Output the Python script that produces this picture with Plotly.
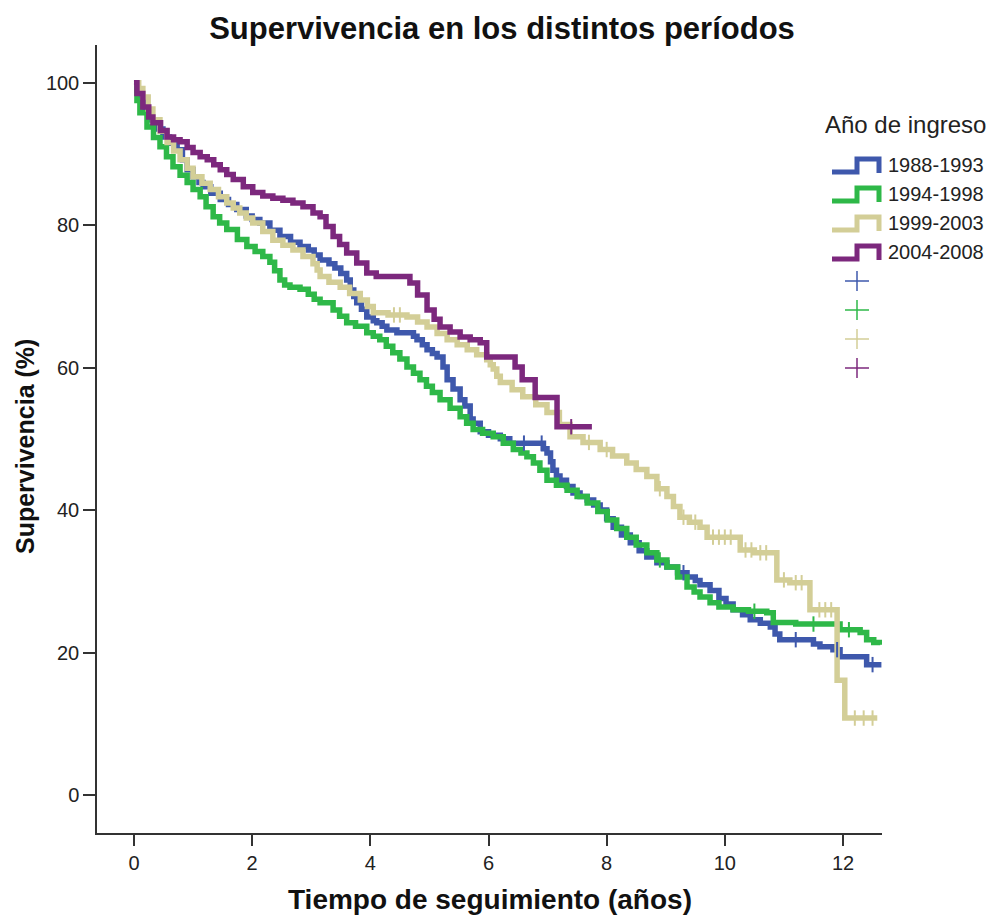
import plotly.graph_objects as go

# ---- Kaplan-Meier survival by admission period ----
periods = ["1988-1993", "1994-1998", "1999-2003", "2004-2008"]
colors = ["#3E58AC", "#2EB848", "#D3CE97", "#7C287D"]

t_1988 = [0, 0.05, 0.1, 0.18, 0.27, 0.38, 0.49, 0.6, 0.73, 0.82, 0.9, 1.0, 1.1, 1.17, 1.3,
          1.46, 1.6, 1.74, 1.9, 2.0, 2.13, 2.3, 2.47, 2.65, 2.81, 2.95, 3.05, 3.15, 3.3, 3.4,
          3.5, 3.6, 3.66, 3.72, 3.77, 3.85, 3.94, 4.05, 4.11, 4.2, 4.28, 4.45, 4.73, 4.79,
          4.88, 4.96, 5.05, 5.13, 5.23, 5.3, 5.4, 5.52, 5.6, 5.69, 5.74, 5.86, 6.0, 6.2, 6.36,
          6.93, 6.99, 7.05, 7.09, 7.15, 7.21, 7.32, 7.43, 7.55, 7.67, 7.78, 7.89, 8.0, 8.11,
          8.25, 8.4, 8.55, 8.68, 8.85, 9.02, 9.2, 9.36, 9.5, 9.58, 9.75, 9.9, 10.02, 10.14,
          10.3, 10.43, 10.6, 10.77, 10.85, 10.93, 11.5, 11.61, 11.83, 11.95, 12.4, 12.65]
s_1988 = [100, 99.0, 97.6, 96.0, 94.8, 93.5, 92.4, 91.5, 90.6, 89.2, 87.8, 86.8, 86.0, 85.4, 84.5,
          83.6, 82.9, 82.2, 81.3, 80.8, 80.3, 79.3, 78.4, 77.6, 77.0, 76.5, 75.8, 75.1, 74.6, 74.0,
          73.2, 72.3, 70.9, 70.0, 69.1, 68.2, 67.1, 66.6, 66.3, 65.8, 65.3, 64.9, 64.4, 63.9,
          63.2, 62.5, 62.0, 61.5, 60.1, 58.3, 57.0, 55.5, 54.6, 52.8, 52.2, 51.0, 50.5, 50.0, 49.4,
          48.6, 48.0, 46.8, 45.6, 44.8, 44.2, 43.3, 42.4, 41.9, 41.4, 40.7, 40.0, 38.8, 37.6,
          36.5, 35.4, 34.3, 33.4, 32.6, 32.0, 31.2, 30.6, 30.1, 29.5, 28.7, 27.6, 26.8, 26.0,
          25.3, 24.6, 24.1, 23.6, 22.6, 21.8, 21.2, 20.8, 20.4, 19.4, 18.3, 18.3]
c_1988 = [6.6, 6.9, 9.3, 11.2, 11.9, 12.5]

t_1994 = [0, 0.05, 0.1, 0.22, 0.33, 0.44, 0.55, 0.66, 0.78, 0.9, 1.0, 1.12, 1.22, 1.34, 1.45,
          1.57, 1.75, 1.91, 2.05, 2.18, 2.3, 2.38, 2.47, 2.55, 2.64, 2.81, 2.95, 3.05, 3.15,
          3.37, 3.48, 3.6, 3.75, 3.94, 4.05, 4.16, 4.27, 4.38, 4.5, 4.62, 4.73, 4.84, 4.95,
          5.05, 5.18, 5.35, 5.52, 5.63, 5.74, 5.9, 6.08, 6.25, 6.42, 6.55, 6.65, 6.76, 6.87,
          6.99, 7.15, 7.33, 7.5, 7.67, 7.85, 8.01, 8.17, 8.34, 8.5, 8.68, 8.85, 9.02, 9.2,
          9.36, 9.48, 9.58, 9.75, 9.9, 10.14, 10.4, 10.71, 10.82, 11.2, 11.95, 12.29, 12.4,
          12.52, 12.63]
s_1994 = [100, 97.5, 95.8, 93.8, 92.3, 91.0, 89.6, 88.2, 87.0, 86.0, 85.0, 84.0, 82.6, 81.2, 80.3,
          79.4, 78.0, 77.0, 76.3, 75.6, 74.8, 73.6, 72.3, 71.6, 71.3, 71.0, 70.3, 69.6, 69.1,
          68.1, 67.2, 66.3, 65.8, 64.9, 64.4, 63.9, 63.0, 62.1, 61.2, 60.1, 59.2, 58.3, 57.4,
          56.5, 55.5, 54.3, 53.1, 52.2, 51.3, 50.8, 50.3, 49.4, 48.5, 48.0, 47.5, 46.6, 45.6,
          44.2, 43.5, 42.8, 41.9, 41.0, 39.8, 38.6, 37.4, 36.2, 35.1, 34.0, 33.0, 32.0, 30.6,
          29.2, 28.5, 27.8, 27.0, 26.4, 26.0, 25.8, 25.6, 24.2, 24.0, 23.2, 22.8, 21.8,
          21.4, 21.1]
c_1994 = [8.9, 10.5, 11.5, 12.1]

t_1999 = [0, 0.08, 0.15, 0.24, 0.32, 0.44, 0.56, 0.67, 0.78, 0.9, 1.0, 1.15, 1.29, 1.43, 1.57,
          1.68, 1.79, 1.9, 2.01, 2.18, 2.35, 2.52, 2.69, 2.86, 3.03, 3.1, 3.15, 3.3, 3.49, 3.65,
          3.83, 3.95, 4.05, 4.3, 4.62, 4.8, 4.96, 5.13, 5.3, 5.47, 5.64, 5.8, 5.97, 6.03, 6.08,
          6.14, 6.2, 6.4, 6.58, 6.8, 6.99, 7.2, 7.38, 7.6, 7.89, 8.1, 8.34, 8.5, 8.68, 8.85,
          9.02, 9.13, 9.24, 9.4, 9.58, 9.7, 10.26, 10.5, 10.88, 11.1, 11.44, 11.9, 12.03, 12.58]
s_1999 = [100, 99.2, 98.0, 96.3, 94.8, 93.2, 91.6, 90.4, 89.2, 88.0, 86.8, 85.9, 85.0, 84.0, 83.1,
          82.4, 81.7, 81.0, 80.3, 79.1, 77.9, 77.2, 76.5, 75.6, 74.6, 73.7, 72.8, 72.0, 71.3, 70.4,
          69.5, 68.6, 67.7, 67.4, 67.1, 66.4, 65.7, 64.8, 63.9, 63.2, 62.5, 61.8, 61.1, 60.4, 59.8,
          58.8, 57.9, 56.9, 55.9, 54.8, 53.7, 52.0, 50.3, 49.5, 48.5, 47.6, 46.6, 45.7, 44.7, 43.0,
          41.9, 40.5, 39.0, 38.3, 37.6, 36.2, 34.4, 34.0, 30.2, 29.8, 26.0, 16.1, 10.8, 10.8]
c_1999 = [4.4, 4.5, 7.7, 8.0, 8.9, 9.3, 9.5, 9.8, 9.9, 10.0, 10.1, 10.35, 10.45, 10.6, 10.7,
          11.0, 11.2, 11.3, 11.6, 11.7, 11.8, 12.2, 12.35, 12.5]

t_2004 = [0, 0.05, 0.15, 0.25, 0.32, 0.45, 0.56, 0.67, 0.78, 0.9, 1.0, 1.12, 1.24, 1.35, 1.46,
          1.57, 1.68, 1.85, 2.01, 2.18, 2.35, 2.52, 2.69, 2.86, 3.03, 3.15, 3.25, 3.37, 3.48,
          3.6, 3.77, 3.94, 4.1, 4.67, 4.8, 4.96, 5.08, 5.18, 5.35, 5.52, 5.69, 5.86, 5.97,
          6.45, 6.57, 6.79, 7.16, 7.75]
s_2004 = [100, 98.5, 96.6, 95.2, 94.4, 93.3, 92.4, 92.0, 91.7, 90.9, 90.2, 89.6, 89.2, 88.5, 87.8,
          87.1, 86.4, 85.4, 84.6, 84.1, 83.8, 83.5, 83.1, 82.6, 81.7, 81.2, 79.8, 78.4, 77.3,
          76.1, 74.7, 73.3, 72.8, 71.9, 70.2, 68.1, 66.8, 65.7, 65.0, 64.3, 63.9, 63.5, 61.5,
          60.1, 58.3, 55.8, 51.7, 51.7]
c_2004 = [7.4]

series = [
    (t_1988, s_1988, c_1988),
    (t_1994, s_1994, c_1994),
    (t_1999, s_1999, c_1999),
    (t_2004, s_2004, c_2004),
]

x_ticks = [0, 2, 4, 6, 8, 10, 12]
y_ticks = [0, 20, 40, 60, 80, 100]

FONT = "Liberation Sans, Arial, sans-serif"
W, H = 996, 915
L, R, T, B = 97, 114, 45, 82


def surv_at(times, surv, t):
    """Value of the step survival curve at time t."""
    val = surv[0]
    for ti, si in zip(times, surv):
        if ti <= t:
            val = si
        else:
            break
    return val


fig = go.Figure()

for (times, surv, cens), name, col in zip(series, periods, colors):
    fig.add_trace(go.Scatter(
        x=times, y=surv, mode="lines", name=name,
        line=dict(color=col, width=5.5, shape="hv"),
        showlegend=False, hoverinfo="skip",
    ))
for (times, surv, cens), name, col in zip(series, periods, colors):
    fig.add_trace(go.Scatter(
        x=cens, y=[surv_at(times, surv, c) for c in cens], mode="markers",
        name=name + " censurado",
        marker=dict(symbol="line-ns", size=11, line=dict(color=col, width=2)),
        showlegend=False, hoverinfo="skip",
    ))

# ---- legend drawn in paper coordinates ----
pw, ph = W - L - R, H - T - B


def px(xp):
    return (xp - L) / pw


def py(yp):
    return (H - B - yp) / ph


shapes = []
annotations = []

annotations.append(dict(
    text="Año de ingreso", x=px(823), y=py(125), xref="paper", yref="paper",
    xanchor="left", yanchor="middle", showarrow=False,
    font=dict(family=FONT, size=24, color="#222222"),
))

row_y = [165, 194, 223, 252]
for name, col, yc in zip(periods, colors, row_y):
    x0, x1, x2 = 832, 857, 879
    ylo, yhi = yc + 7, yc - 6
    path = (f"M {px(x0)},{py(ylo)} L {px(x1)},{py(ylo)} L {px(x1)},{py(yhi)} "
            f"L {px(x2)},{py(yhi)} L {px(x2)},{py(ylo + 1)}")
    shapes.append(dict(type="path", path=path, xref="paper", yref="paper",
                       line=dict(color=col, width=5)))
    annotations.append(dict(
        text=name, x=px(886), y=py(yc), xref="paper", yref="paper",
        xanchor="left", yanchor="middle", showarrow=False,
        font=dict(family=FONT, size=20, color="#222222"),
    ))

cross_y = [281, 310, 339, 368]
for col, yc in zip(colors, cross_y):
    shapes.append(dict(type="line", xref="paper", yref="paper",
                       x0=px(845), x1=px(869), y0=py(yc), y1=py(yc),
                       line=dict(color=col, width=1.5)))
    shapes.append(dict(type="line", xref="paper", yref="paper",
                       x0=px(857), x1=px(857), y0=py(yc - 10), y1=py(yc + 10),
                       line=dict(color=col, width=1.5)))

# axis titles
annotations.append(dict(
    text="<b>Tiempo de seguimiento (años)</b>", x=px(490), y=py(900),
    xref="paper", yref="paper", xanchor="center", yanchor="middle", showarrow=False,
    font=dict(family=FONT, size=28, color="#111111"),
))
annotations.append(dict(
    text="<b>Supervivencia (%)</b>", x=px(25), y=py(447),
    xref="paper", yref="paper", xanchor="center", yanchor="middle", showarrow=False,
    textangle=-90, font=dict(family=FONT, size=25, color="#111111"),
))

fig.update_layout(
    width=W, height=H,
    margin=dict(l=L, r=R, t=T, b=B, pad=0),
    paper_bgcolor="white", plot_bgcolor="white",
    title=dict(text="<b>Supervivencia en los distintos períodos</b>",
               x=502 / W, xref="container", xanchor="center",
               y=1 - 28 / H, yref="container", yanchor="middle",
               font=dict(family=FONT, size=31, color="#111111")),
    shapes=shapes, annotations=annotations,
    showlegend=False,
)
fig.update_xaxes(
    range=[-0.626, 12.66], tickvals=x_ticks, ticktext=[str(v) for v in x_ticks],
    showgrid=False, zeroline=False, showline=True, linecolor="#333333", linewidth=1.5,
    ticks="outside", ticklen=11, tickwidth=1.5, tickcolor="#333333",
    tickfont=dict(family=FONT, size=20, color="#222222"),
)
fig.update_yaxes(
    range=[-5.34, 105.3], tickvals=y_ticks, ticktext=[str(v) for v in y_ticks],
    showgrid=False, zeroline=False, showline=True, linecolor="#333333", linewidth=1.5,
    ticks="outside", ticklen=12, tickwidth=1.5, tickcolor="#333333",
    tickfont=dict(family=FONT, size=20, color="#222222"),
)

fig.write_html("out.html")
